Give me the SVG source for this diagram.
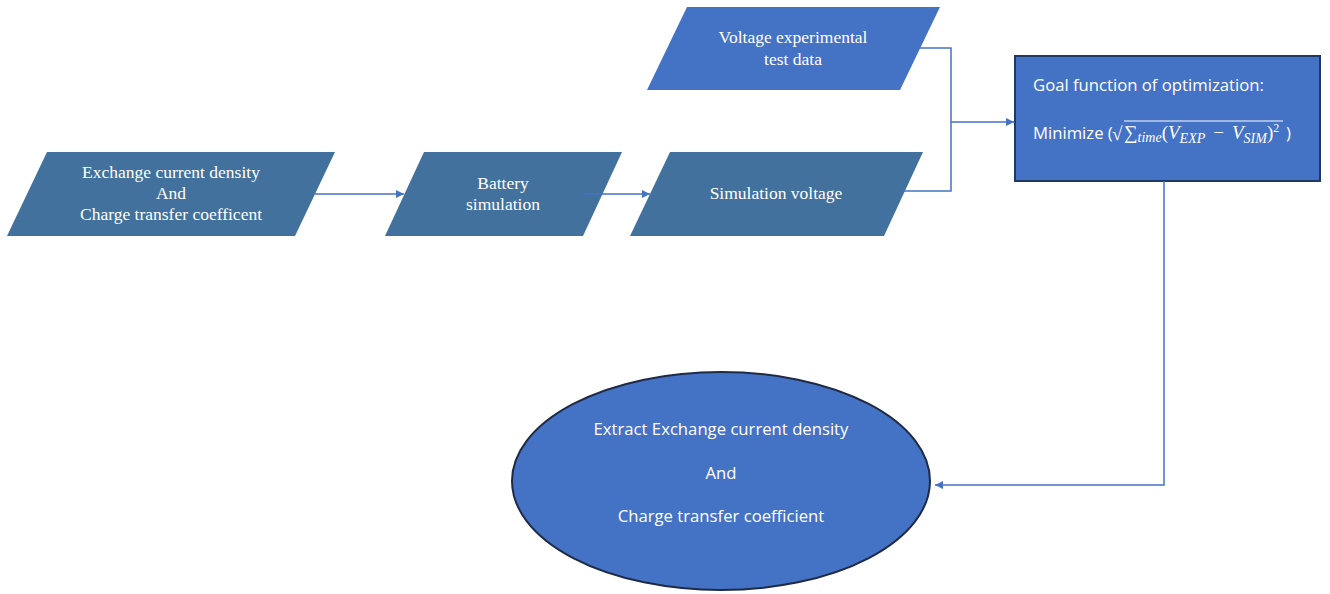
<svg xmlns="http://www.w3.org/2000/svg" width="1330" height="594" viewBox="0 0 1330 594">
<defs>
<marker id="arr" viewBox="0 0 10 10" refX="10" refY="5" markerWidth="8" markerHeight="8" markerUnits="userSpaceOnUse" orient="auto"><path d="M0,0 L10,5 L0,10 z" fill="#4472C4"/></marker>
<style>
.pa{fill:#41719C;}
.pb{fill:#4472C4;}
.serif{font-family:"Liberation Serif","Times New Roman",serif;font-size:17.5px;fill:#fff;text-anchor:middle;}
.sans{font-family:"Open Sans","Noto Sans",sans-serif;font-size:16.7px;fill:#fff;}
.math{font-family:"Liberation Serif",serif;font-style:italic;fill:#fff;}
.conn{fill:none;stroke:#4472C4;stroke-width:1.5;}
</style>
</defs>
<rect width="1330" height="594" fill="#fff"/>
<g id="n-exchange">
<polygon class="pa" points="47,152 335,152 295,236 7,236"/>
<text class="serif" x="171" y="178">Exchange current density</text>
<text class="serif" x="171" y="199">And</text>
<text class="serif" x="171" y="220">Charge transfer coefficent</text>
</g>
<g id="n-battery">
<polygon class="pa" points="424,152 622,152 583,236 385,236"/>
<text class="serif" x="503" y="189">Battery</text>
<text class="serif" x="503" y="210">simulation</text>
</g>
<g id="n-simvolt">
<polygon class="pa" points="670,152 923,152 884,236 630,236"/>
<text class="serif" x="776" y="199">Simulation voltage</text>
</g>
<g id="n-expdata">
<polygon class="pb" points="687,7 940,7 900,90 647,90"/>
<text class="serif" x="793" y="43">Voltage experimental</text>
<text class="serif" x="793" y="65">test data</text>
</g>
<g id="n-goal">
<rect x="1015" y="56" width="305" height="125" fill="#4472C4" stroke="#1F3864" stroke-width="2"/>
<text class="sans" x="1033" y="91">Goal function of optimization:</text>
<text class="sans" x="1033" y="139">Minimize (</text>
<text class="math" x="1112" y="140" font-size="19" font-style="normal">√</text>
<line x1="1124" y1="121" x2="1283" y2="121" stroke="#fff" stroke-width="1"/>
<text class="math" x="1124" y="139" font-size="19"><tspan font-style="normal">∑</tspan><tspan font-size="14" dy="3">time</tspan><tspan font-style="normal" dy="-3">(</tspan>V<tspan font-size="14" dy="4">EXP</tspan><tspan font-style="normal" dy="-4" dx="8">−</tspan><tspan dx="8">V</tspan><tspan font-size="14" dy="4">SIM</tspan><tspan font-style="normal" dy="-4">)</tspan><tspan font-style="normal" font-size="12" dy="-7">2</tspan></text>
<text class="sans" x="1286" y="139">)</text>
</g>
<g id="n-extract">
<ellipse cx="721" cy="481" rx="209" ry="109" fill="#4472C4" stroke="#1F2A44" stroke-width="2"/>
<text class="sans" x="721" y="435" text-anchor="middle">Extract Exchange current density</text>
<text class="sans" x="721" y="479" text-anchor="middle">And</text>
<text class="sans" x="721" y="522" text-anchor="middle">Charge transfer coefficient</text>
</g>
<g id="connectors">
<line class="conn" x1="315" y1="194" x2="404" y2="194" marker-end="url(#arr)"/>
<line class="conn" x1="583" y1="194" x2="650" y2="194" marker-end="url(#arr)"/>
<polyline class="conn" points="903,191 951,191 951,48 920,48"/>
<line class="conn" x1="951" y1="122" x2="1014" y2="122" marker-end="url(#arr)"/>
<polyline class="conn" points="1164,181 1164,485 935,485" marker-end="url(#arr)"/>
</g>
</svg>
